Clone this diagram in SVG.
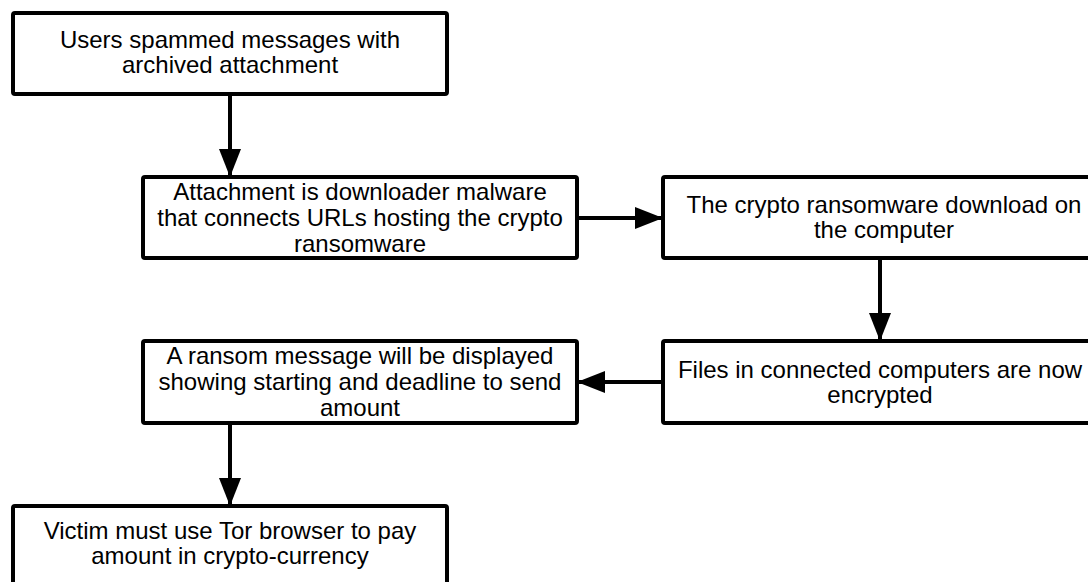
<svg xmlns="http://www.w3.org/2000/svg" width="1088" height="582" viewBox="0 0 1088 582">
<style>
.box{fill:#fff;stroke:#000;stroke-width:4}
.t{font-family:"Liberation Sans",Arial,sans-serif;font-size:24px;fill:#000;text-anchor:middle}
.c{stroke:#000;stroke-width:4;fill:none}
</style>
<defs>
<marker id="ah" markerUnits="userSpaceOnUse" markerWidth="30" markerHeight="24" refX="28" refY="11" orient="auto">
<path d="M0,0 L28,11 L0,22 Z" fill="#000"/>
</marker>
</defs>
<rect width="1088" height="582" fill="#fff"/>
<g id="connectors">
<line class="c" x1="230" y1="94" x2="230" y2="177" marker-end="url(#ah)"/>
<line class="c" x1="577" y1="218" x2="663" y2="218" marker-end="url(#ah)"/>
<line class="c" x1="880" y1="258" x2="880" y2="341" marker-end="url(#ah)"/>
<line class="c" x1="663" y1="382" x2="577" y2="382" marker-end="url(#ah)"/>
<line class="c" x1="230" y1="423" x2="230" y2="506" marker-end="url(#ah)"/>
</g>
<g id="n1">
<rect class="box" x="13" y="13" width="434" height="81" rx="2"/>
<text class="t" x="230" y="48">Users spammed messages with</text>
<text class="t" x="230" y="73">archived attachment</text>
</g>
<g id="n2">
<rect class="box" x="143" y="177" width="434" height="81" rx="2"/>
<text class="t" x="360" y="200">Attachment is downloader malware</text>
<text class="t" x="360" y="226">that connects URLs hosting the crypto</text>
<text class="t" x="360" y="252">ransomware</text>
</g>
<g id="n3">
<rect class="box" x="663" y="177" width="434" height="81" rx="2"/>
<text class="t" x="884" y="213">The crypto ransomware download on</text>
<text class="t" x="884" y="238">the computer</text>
</g>
<g id="n4">
<rect class="box" x="663" y="341" width="434" height="82" rx="2"/>
<text class="t" x="880" y="378">Files in connected computers are now</text>
<text class="t" x="880" y="403">encrypted</text>
</g>
<g id="n5">
<rect class="box" x="143" y="341" width="434" height="82" rx="2"/>
<text class="t" x="360" y="364">A ransom message will be displayed</text>
<text class="t" x="360" y="390">showing starting and deadline to send</text>
<text class="t" x="360" y="416">amount</text>
</g>
<g id="n6">
<rect class="box" x="13" y="506" width="434" height="100" rx="2"/>
<text class="t" x="230" y="539">Victim must use Tor browser to pay</text>
<text class="t" x="230" y="564">amount in crypto-currency</text>
</g>
</svg>
